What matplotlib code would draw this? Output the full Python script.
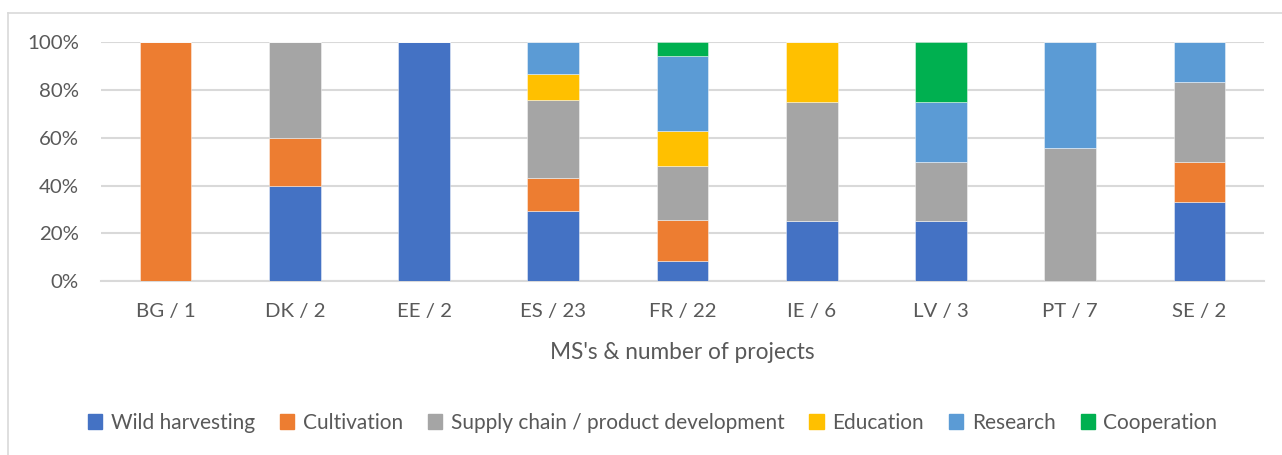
import matplotlib
matplotlib.use("Agg")
import matplotlib.pyplot as plt
from matplotlib.lines import Line2D
import numpy as np

categories = ["BG / 1", "DK / 2", "EE / 2", "ES / 23", "FR / 22", "IE / 6", "LV / 3", "PT / 7", "SE / 2"]
series_names = ["Wild harvesting", "Cultivation", "Supply chain / product development",
                "Education", "Research", "Cooperation"]
wild = [0, 40, 100, 29.3, 8.3, 25, 25, 0, 33.3]
cultivation = [100, 20, 0, 13.7, 17.1, 0, 0, 0, 16.7]
supply = [0, 40, 0, 32.8, 22.9, 50, 25, 55.6, 33.3]
education = [0, 0, 0, 10.9, 14.5, 25, 0, 0, 0]
research = [0, 0, 0, 13.3, 31.5, 0, 25, 44.4, 16.7]
cooperation = [0, 0, 0, 0, 5.7, 0, 25, 0, 0]
yticks = [0, 20, 40, 60, 80, 100]
xlabel = "MS's & number of projects"

colors = ["#4472C4", "#ED7D31", "#A5A5A5", "#FFC000", "#5B9BD5", "#00B050"]
text_color = "#595959"
grid_color = "#D9D9D9"

plt.rcParams['font.family'] = ['Lato', 'DejaVu Sans']

fig = plt.figure(figsize=(12.82, 4.55), dpi=100)
W, H = 1282, 455
ax = fig.add_axes([101 / W, 1 - 281 / H, (1264 - 101) / W, (281 - 42.3) / H])

x = np.arange(len(categories))
bottom = np.zeros(len(categories))
all_series = [wild, cultivation, supply, education, research, cooperation]
for vals, c, name in zip(all_series, colors, series_names):
    v = np.array(vals, dtype=float)
    ax.bar(x, v, 0.40, bottom=bottom, color=c, label=name,
           edgecolor=(1, 1, 1, 0.5), linewidth=0.6, zorder=3)
    bottom += v

ax.set_xlim(-0.5, len(categories) - 0.5)
ax.set_ylim(0, 100)
ax.set_yticks(yticks)
ax.set_yticklabels([f"{t}%" for t in yticks])
ax.set_xticks(x)
ax.set_xticklabels(categories)
ax.yaxis.grid(True, color=grid_color, linewidth=1.5, zorder=0)
ax.set_axisbelow(True)
for s in ["top", "right", "left"]:
    ax.spines[s].set_visible(False)
ax.spines["bottom"].set_color(grid_color)
ax.spines["bottom"].set_linewidth(1.5)
ax.tick_params(axis="both", length=0, labelsize=14.7, colors=text_color)
ax.tick_params(axis="y", pad=16)
ax.tick_params(axis="x", pad=16)
ax.set_xlabel(xlabel, fontsize=16.3, color=text_color, labelpad=16)

handles = [plt.Rectangle((0, 0), 1, 1, color=c) for c in colors]
fig.legend(handles, series_names, loc="center", bbox_to_anchor=(0.509, 1 - 423 / H),
           ncol=6, frameon=False, fontsize=15, labelcolor=text_color,
           handlelength=0.7, handleheight=0.7, handletextpad=0.4, columnspacing=1.2)

# chart border
fig.add_artist(Line2D([8 / W, 8 / W], [0, 1 - 13 / H], transform=fig.transFigure,
                      color=grid_color, linewidth=1.2))
fig.add_artist(Line2D([8 / W, 1.0], [1 - 13 / H, 1 - 13 / H], transform=fig.transFigure,
                      color=grid_color, linewidth=1.2))

fig.savefig("out.png", dpi=100)
